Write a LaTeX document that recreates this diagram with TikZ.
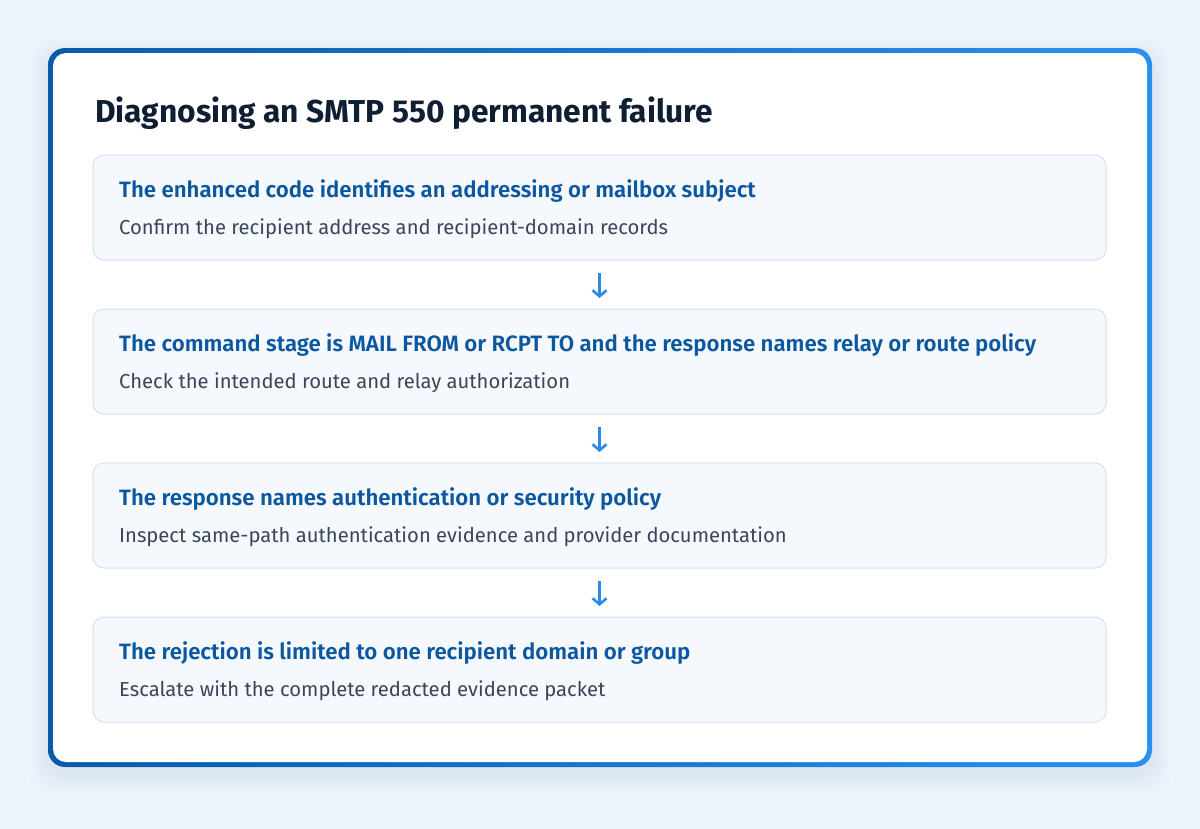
\documentclass[tikz,border=0pt]{standalone}
\usepackage{fontspec}
\setmainfont{Fira Sans}
\newfontfamily\semib{Fira Sans SemiBold}
\usetikzlibrary{arrows.meta}
\definecolor{bgc}{HTML}{EEF4FB}
\definecolor{cardA}{HTML}{0B5AA8}
\definecolor{cardB}{HTML}{2A90F0}
\definecolor{titlec}{HTML}{0F1E33}
\definecolor{headc}{HTML}{0B57A0}
\definecolor{subc}{HTML}{3A4657}
\definecolor{boxfill}{HTML}{F5F9FD}
\definecolor{boxline}{HTML}{D3E2F3}
\definecolor{arrowc}{HTML}{2B8AE8}
\definecolor{shadowc}{HTML}{1E64B4}
\tikzset{
  stepbox/.style={draw=boxline, line width=1bp, fill=boxfill, rounded corners=11bp,
    minimum width=1013bp, minimum height=105bp, anchor=north west, inner sep=0pt, outer sep=0pt},
  headtext/.style={anchor=base west, inner sep=0pt, text=headc, font=\semib\fontsize{22.3}{27}\selectfont},
  subtext/.style={anchor=base west, inner sep=0pt, text=subc, font=\fontsize{20.3}{24}\selectfont},
  flow/.style={draw=arrowc, line width=2.6bp, shorten <=13bp, shorten >=11bp,
    -{Straight Barb[length=6bp, width=14bp, line width=2.6bp]}},
}
\begin{document}
\begin{tikzpicture}[x=1bp, y=-1bp]
\fill[bgc] (0,0) rectangle (1200,829);
\useasboundingbox (0,0) rectangle (1200,829);
% soft shadow
\foreach \d/\o in {20/0.012,15/0.016,10/0.02,5/0.025}{
  \fill[shadowc, opacity=\o, rounded corners=24bp] (48-\d,48-\d+8) rectangle (1152+\d,767+\d+8);
}
% card with gradient border
\shade[rounded corners=17bp, left color=cardA, right color=cardB] (48,48) rectangle (1152,767);
\fill[white, rounded corners=13bp] (53,53) rectangle (1147,762);
\node[anchor=base west, inner sep=0pt, text=titlec, font=\bfseries\fontsize{31.8}{38}\selectfont] (title) at (95,122) {Diagnosing an SMTP 550 permanent failure};
% boxes
\node[stepbox] (b1) at (93,155) {};
\node[stepbox] (b2) at (93,309) {};
\node[stepbox] (b3) at (93,463) {};
\node[stepbox] (b4) at (93,617) {};
\node[headtext] (h1) at (119,197) {The enhanced code identifies an addressing or mailbox subject};
\node[subtext]  (s1) at (119,234) {Confirm the recipient address and recipient-domain records};
\node[headtext] (h2) at (119,351) {The command stage is MAIL FROM or RCPT TO and the response names relay or route policy};
\node[subtext]  (s2) at (119,388) {Check the intended route and relay authorization};
\node[headtext] (h3) at (119,505) {The response names authentication or security policy};
\node[subtext]  (s3) at (119,542) {Inspect same-path authentication evidence and provider documentation};
\node[headtext] (h4) at (119,659) {The rejection is limited to one recipient domain or group};
\node[subtext]  (s4) at (119,696) {Escalate with the complete redacted evidence packet};
% arrows
\draw[flow] (b1.south) -- (b2.north);
\draw[flow] (b2.south) -- (b3.north);
\draw[flow] (b3.south) -- (b4.north);
\end{tikzpicture}
\end{document}
